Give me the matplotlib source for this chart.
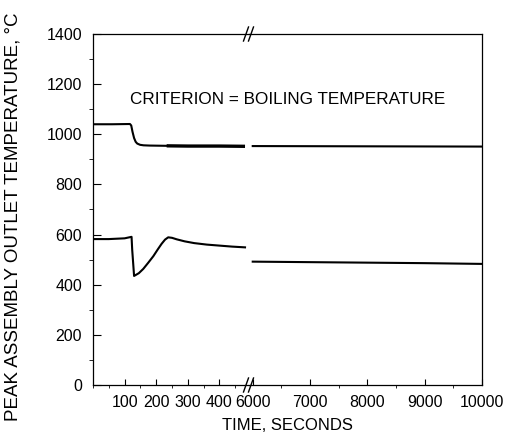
import matplotlib.pyplot as plt
from matplotlib.ticker import MultipleLocator, FixedLocator

plt.rcParams['font.family'] = ['Liberation Sans', 'DejaVu Sans']

# upper curve: criterion = boiling temperature
t_up_left = [0, 60, 117, 121, 125, 130, 135, 140, 149, 160, 180, 233, 300, 400, 481]
temp_up_left = [1040, 1040, 1041, 1035, 1010, 985, 970, 963, 958, 956, 955, 954, 953, 953, 952]
t_up_right = [6000, 10000]
temp_up_right = [953, 951]

# lower curve
t_low_left = [0, 50, 100, 122, 124, 130, 145, 159, 175, 191, 205, 217, 228, 238,
              250, 265, 290, 320, 360, 400, 440, 481]
temp_low_left = [582, 582, 585, 591, 540, 435, 446, 463, 488, 514, 541, 563, 580, 589,
                 587, 581, 573, 566, 560, 556, 552, 549]
t_low_right = [6000, 7000, 8000, 9000, 10000]
temp_low_right = [492, 490, 488, 486, 483]

left_ticks = [100, 200, 300, 400]
right_ticks = [6000, 7000, 8000, 9000, 10000]

W, H = 514, 444
fig = plt.figure(figsize=(W / 100, H / 100), dpi=100)

x0, xb, x1 = 93, 249, 482
y0, y1 = 385, 34
ax1 = fig.add_axes([x0 / W, 1 - y0 / H, (xb - x0) / W, (y0 - y1) / H])
ax2 = fig.add_axes([xb / W, 1 - y0 / H, (x1 - xb) / W, (y0 - y1) / H])

lw = 1.5
ax1.plot(t_up_left[:12], temp_up_left[:12], color='black', lw=lw)
ax1.plot(t_up_left[11:], temp_up_left[11:], color='black', lw=2.4, solid_capstyle='butt')
ax1.plot(t_low_left, temp_low_left, color='black', lw=lw)
ax2.plot(t_up_right, temp_up_right, color='black', lw=lw)
ax2.plot(t_low_right, temp_low_right, color='black', lw=lw)

ax1.set_xlim(0, 493.6)
ax2.set_xlim(5935, 10000)
for ax in (ax1, ax2):
    ax.set_ylim(0, 1400)
    for s in ax.spines.values():
        s.set_linewidth(0.9)
    ax.tick_params(direction='in', labelsize=11.5, width=0.8)
    ax.tick_params(axis='x', which='major', length=4.5, pad=7)
    ax.tick_params(axis='x', which='minor', length=2.2)

ax1.spines['right'].set_visible(False)
ax2.spines['left'].set_visible(False)

ax1.xaxis.set_major_locator(FixedLocator(left_ticks))
ax1.xaxis.set_minor_locator(MultipleLocator(50))
ax2.xaxis.set_major_locator(FixedLocator(right_ticks))
ax2.xaxis.set_minor_locator(MultipleLocator(500))

ax1.yaxis.set_major_locator(MultipleLocator(200))
ax1.yaxis.set_minor_locator(MultipleLocator(100))
ax1.tick_params(axis='y', which='major', length=6, pad=8)
ax1.tick_params(axis='y', which='minor', length=3)
ax2.tick_params(axis='y', which='both', left=False, labelleft=False)

# break marks on top and bottom spines
for yb in (y0, y1):
    for dx in (-3, 2):
        xc = xb + dx
        fig.add_artist(plt.Line2D([(xc - 2.5) / W, (xc + 2.5) / W],
                                  [1 - (yb + 7) / H, 1 - (yb - 7) / H],
                                  color='black', lw=1.0))

fig.text(13 / W, 1 - 217 / H, 'PEAK ASSEMBLY OUTLET TEMPERATURE, \u00b0C',
         rotation=90, ha='center', va='center', fontsize=13.5)
fig.text((x0 + x1) / 2 / W, 1 - 425 / H, 'TIME, SECONDS', ha='center', va='center', fontsize=12)
fig.text(288 / W, 1 - 100 / H, 'CRITERION = BOILING TEMPERATURE', ha='center', va='center', fontsize=12.3)

fig.savefig('out.png', dpi=100)
